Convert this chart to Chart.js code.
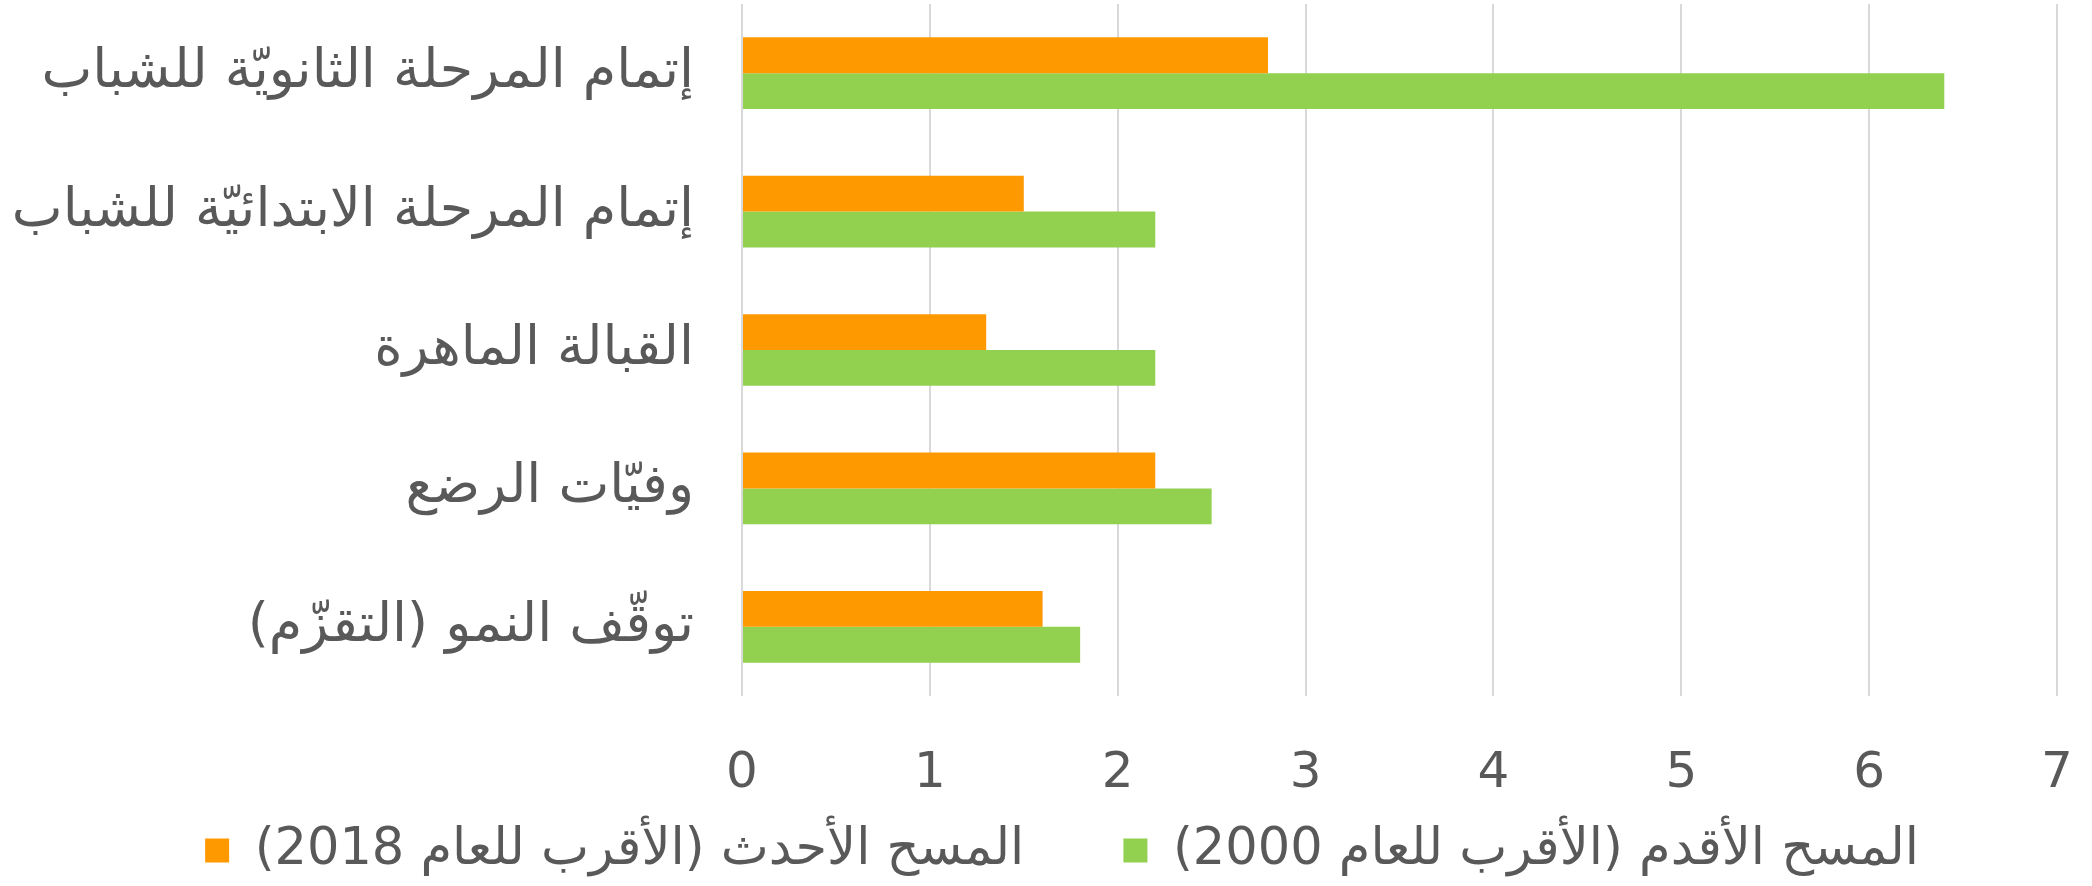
<!DOCTYPE html>
<html>
<head>
<meta charset="utf-8">
<script src="https://cdn.jsdelivr.net/npm/chart.js@4/dist/chart.umd.min.js"></script>
<style>
  html, body { margin: 0; padding: 0; background: #fff; }
  #wrap { width: 2092px; height: 886px; position: relative; }
  canvas { direction: rtl; }
</style>
</head>
<body>
<div id="wrap"><canvas id="surveyChart" dir="rtl"></canvas></div>
<script>
const categories = [
  "إتمام المرحلة الثانويّة للشباب",
  "إتمام المرحلة الابتدائيّة للشباب",
  "القبالة الماهرة",
  "وفيّات الرضع",
  "توقّف النمو (التقزّم)"
];
const latestLabel = "المسح الأحدث (الأقرب للعام 2018)";
const oldestLabel = "المسح الأقدم (الأقرب للعام 2000)";
const latestValues = [2.8, 1.5, 1.3, 2.2, 1.6];
const oldestValues = [6.4, 2.2, 2.2, 2.5, 1.8];
const xMin = 0;
const xMax = 7;

const fontFamily = "'DejaVu Sans', sans-serif";
const textColor = "#595959";
const gridColor = "#d9d9d9";
const leftPad = 32;

const datasets = [
  {
    label: latestLabel,
    data: latestValues,
    backgroundColor: "#ff9900"
  },
  {
    label: oldestLabel,
    data: oldestValues,
    backgroundColor: "#92d050"
  }
];

const options = {
  indexAxis: 'y',
  responsive: true,
  maintainAspectRatio: false,
  animation: false,
  datasets: {
    bar: { barPercentage: 1, categoryPercentage: 0.518 }
  },
  layout: { padding: { top: 4, right: 0, bottom: 0, left: leftPad } },
  scales: {
    x: {
      min: xMin,
      max: xMax,
      ticks: {
        stepSize: 1,
        color: textColor,
        padding: 48,
        font: { family: fontFamily, size: 50 }
      },
      grid: { color: gridColor, lineWidth: 2, drawTicks: false },
      border: { display: false },
      afterFit: (scale) => {
        scale.height = 119;
        scale.paddingLeft = 0;
        scale.paddingRight = 35;
      }
    },
    y: {
      ticks: {
        color: textColor,
        padding: 48,
        font: { family: fontFamily, size: 54 }
      },
      grid: { display: false, drawTicks: false },
      border: { display: false },
      afterFit: (scale) => {
        scale.width = 742 - leftPad;
        // keep the label half-heights from pushing the plot down
        scale.paddingTop = 0;
        scale.paddingBottom = 0;
      }
    }
  },
  plugins: {
    legend: {
      position: 'bottom',
      textDirection: 'rtl',
      labels: {
        color: textColor,
        boxWidth: 24,
        boxHeight: 24,
        padding: 10,
        font: { family: fontFamily, size: 51 },
        generateLabels: (chart) => {
          const items = Chart.defaults.plugins.legend.labels.generateLabels(chart);
          // wider gap between the two entries, as in the original
          items[0].text = "\u2003\u2002\u2005" + items[0].text;
          return items;
        }
      }
    },
    tooltip: { enabled: false }
  }
};

// long category names run into the left padding; don't clip them there
const unclipLabels = {
  id: 'unclipLabels',
  afterLayout(chart) { chart.scales.y.left = 0; }
};

const ctx = document.getElementById("surveyChart").getContext('2d');
new Chart(ctx, {
  type: 'bar',
  data: { labels: categories, datasets },
  options,
  plugins: [unclipLabels]
});
</script>
</body>
</html>
